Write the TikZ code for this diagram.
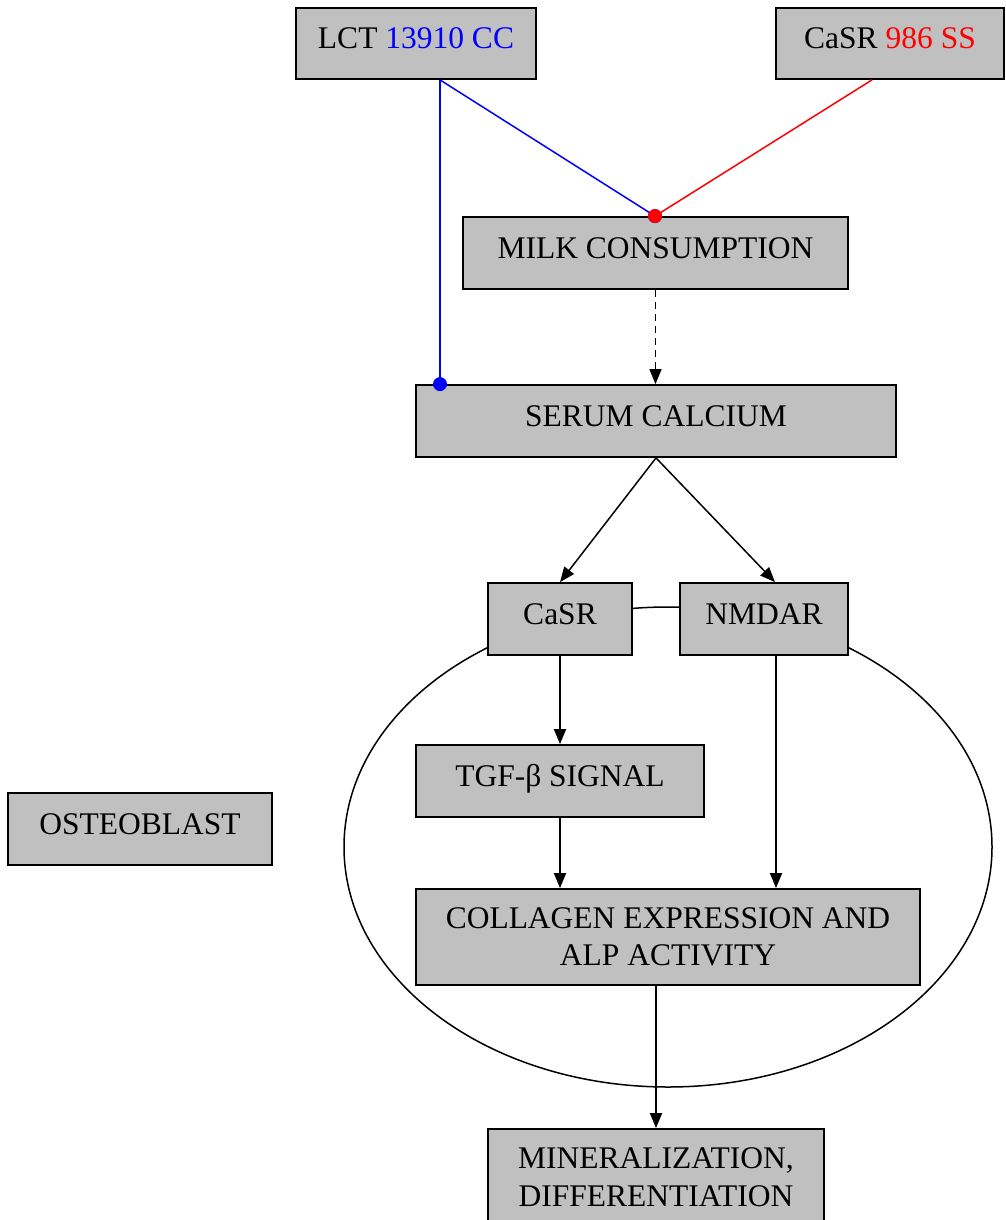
\documentclass[tikz,border=0pt]{standalone}
\usepackage{fontspec}
\setmainfont{Liberation Serif}
\usetikzlibrary{arrows.meta,calc,shapes.geometric}
\definecolor{boxgray}{RGB}{192,192,192}
\definecolor{gblue}{RGB}{0,0,255}
\definecolor{gred}{RGB}{255,0,0}
\begin{document}
\begin{tikzpicture}[x=1pt,y=-1pt,
  box/.style={draw=black,fill=boxgray,line width=1.8pt,inner sep=0pt,align=center,
    font=\fontsize{31.5}{37.5}\selectfont},
  oneline/.style={box,text height=22pt,text depth=11pt},
  arr/.style={line width=1.5pt,-{Triangle[length=15pt,width=12pt]}},
  conn/.style={line width=1.5pt},
  cellshape/.style={draw=black,line width=1.5pt,ellipse,inner sep=0pt}
]
\useasboundingbox (0,0) rectangle (1005,1220);
% cell (osteoblast) outline
\node[cellshape,minimum width=648pt,minimum height=480pt] (cell) at (668,847) {};
% nodes
\node[oneline,minimum width=240pt,minimum height=71pt] (lct) at (416,43.5) {LCT \textcolor{gblue}{13910 CC}};
\node[oneline,minimum width=228pt,minimum height=71pt] (casrg) at (890,43.5) {CaSR \textcolor{gred}{986 SS}};
\node[oneline,minimum width=385pt,minimum height=72pt] (milk) at (655.5,253) {MILK CONSUMPTION};
\node[oneline,minimum width=480pt,minimum height=72pt] (serum) at (656,421) {SERUM CALCIUM};
\node[oneline,minimum width=144pt,minimum height=72pt] (casr) at (560,619) {CaSR};
\node[oneline,minimum width=168pt,minimum height=72pt] (nmdar) at (764,619) {NMDAR};
\node[oneline,minimum width=288pt,minimum height=72pt] (tgf) at (560,781) {TGF-β SIGNAL};
\node[box,minimum width=504pt,minimum height=96pt] (col) at (668,937) {COLLAGEN EXPRESSION AND\\ALP ACTIVITY};
\node[oneline,minimum width=264pt,minimum height=72pt] (ost) at (140,829) {OSTEOBLAST};
\node[box,minimum width=336pt,minimum height=96pt] (mineral) at (656,1177) {MINERALIZATION,\\DIFFERENTIATION};
% connectors
\coordinate (l1) at ($(lct.south)+(24,0)$);
\coordinate (c1) at ($(casrg.south)+(-18,0)$);
\coordinate (m1) at ($(milk.north)+(-0.5,0)$);
\coordinate (s1) at (l1 |- serum.north);
\draw[conn,gblue] (l1) -- (m1);
\draw[conn,gblue] (l1) -- (s1);
\fill[gblue] (s1) circle[radius=7pt];
\fill[gblue] (m1) circle[radius=7pt];
\draw[conn,gred] (c1) -- (m1);
\fill[gred] (m1) circle[radius=7pt];
\draw[arr,dash pattern=on 7pt off 5pt] (milk.south) -- (milk.south |- serum.north);
\draw[arr] (serum.south) -- (casr.north);
\draw[arr] (serum.south) -- ($(nmdar.north)+(11,0)$);
\draw[arr] (casr.south) -- (tgf.north);
\draw[arr] (tgf.south) -- (tgf.south |- col.north);
\coordinate (n1) at ($(nmdar.south)+(12,0)$);
\draw[arr] (n1) -- (n1 |- col.north);
\draw[arr] (mineral.north |- col.south) -- (mineral.north);
\end{tikzpicture}
\end{document}
